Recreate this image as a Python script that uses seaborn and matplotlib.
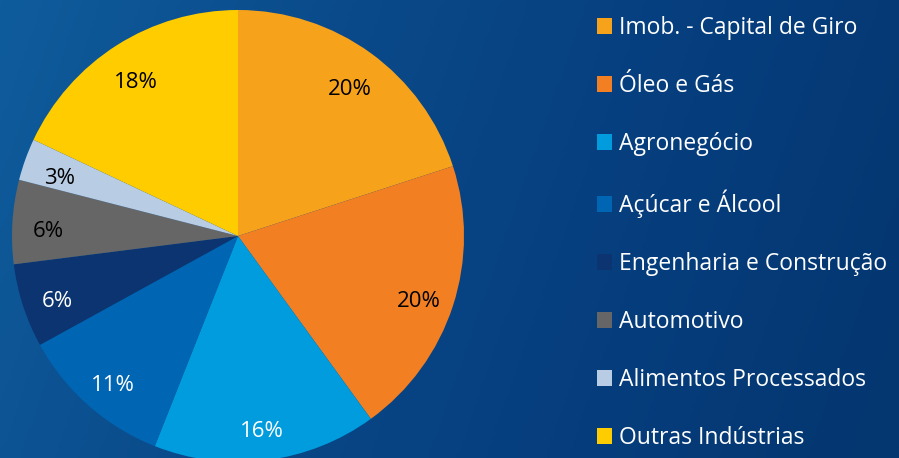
import numpy as np
import matplotlib
matplotlib.use("Agg")
import matplotlib.pyplot as plt
import matplotlib.transforms as mtransforms
from matplotlib.colors import LinearSegmentedColormap
import seaborn as sns

# Data
sectors = ["Imob. - Capital de Giro", "Óleo e Gás", "Agronegócio", "Açúcar e Álcool",
           "Engenharia e Construção", "Automotivo", "Alimentos Processados", "Outras Indústrias"]
shares = [20, 20, 16, 11, 6, 6, 3, 18]
sector_colors = ["#F7A21B", "#F28023", "#009CDE", "#0066B3",
                 "#0B3470", "#666666", "#B8CCE4", "#FFCC00"]
label_colors = ["black", "black", "white", "white", "white", "black", "black", "black"]

sns.set_theme(style="white")
plt.rcParams['font.family'] = ['Open Sans', 'DejaVu Sans']

fig = plt.figure(figsize=(8.99, 4.58), dpi=100)

# background gradient (lighter blue on the left, darker to the right)
bg = fig.add_axes([0, 0, 1, 1], zorder=0)
gx = np.linspace(0, 1, 300)
gy = np.linspace(0, 1, 100)
grad = gx[None, :] * 0.85 + gy[:, None] * 0.15
cmap = LinearSegmentedColormap.from_list("bgblue", ["#0F5C9C", "#0A4A8A", "#063E7E", "#04366F"])
bg.imshow(grad, cmap=cmap, aspect="auto", extent=[0, 1, 0, 1], origin="upper")
bg.axis("off")

# pie
ax = fig.add_axes([12 / 899, -4 / 458, 452 / 899, 452 / 458], zorder=1)
palette = sns.color_palette(sector_colors)
wedges, texts, autotexts = ax.pie(
    shares, colors=palette, startangle=90, counterclock=False,
    autopct="%1.0f%%", pctdistance=0.84, radius=1,
    wedgeprops=dict(linewidth=0), textprops=dict(fontsize=16))
for t, c in zip(autotexts, label_colors):
    t.set_color(c)
    # nudge labels down a little to match the reference baseline
    t.set_transform(mtransforms.offset_copy(t.get_transform(), fig=fig, x=0, y=-7, units="dots"))
ax.set_xlim(-1, 1)
ax.set_ylim(-1, 1)
ax.set_aspect("equal")
ax.axis("off")

# legend
leg = fig.legend(wedges, sectors, loc="upper left", bbox_to_anchor=(597 / 899, 1 - 16 / 458),
                 frameon=False, fontsize=16.5, labelcolor="white",
                 handlelength=0.66, handleheight=0.66, handletextpad=0.28,
                 labelspacing=1.48, borderaxespad=0, borderpad=0)

fig.savefig("out.png", dpi=100)
